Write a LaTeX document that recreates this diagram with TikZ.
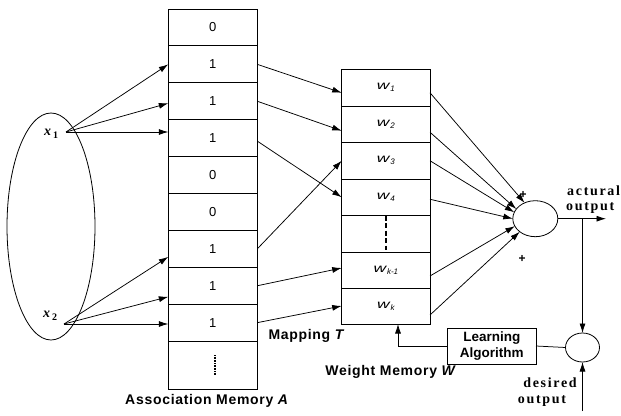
\documentclass[tikz,border=0pt]{standalone}
\usepackage{fontspec}
\usepackage{graphicx}
\setmainfont{Liberation Sans}
\newfontfamily\tmsS[LetterSpace=12]{Liberation Serif}
\newfontfamily\tmsX{Liberation Serif}
\newfontfamily\lsS[LetterSpace=5]{Liberation Sans}
\usetikzlibrary{shapes.geometric,arrows.meta,calc}
\newcommand{\wlab}[1]{\scalebox{1.45}[1]{\textit{w}}\raisebox{-0.3ex}{\fontsize{8}{9}\selectfont\itshape #1}}
\newcommand{\xlab}[1]{{\fontsize{14}{16}\selectfont\tmsX\bfseries\itshape x}\hspace{2pt}\raisebox{-0.5ex}{\fontsize{10}{11}\selectfont\tmsX\bfseries #1}}
\begin{document}
\begin{tikzpicture}[x=1pt,y=-1pt,
  box/.style={draw,line width=0.9pt,inner sep=0pt,outer sep=0pt},
  acell/.style={box,minimum width=89pt,minimum height=36.9pt,font=\fontsize{13}{14}\selectfont},
  wcell/.style={box,minimum width=88.3pt,minimum height=36.5pt,font=\fontsize{12}{14}\selectfont},
  arr/.style={line width=0.75pt,-{Latex[length=9.5pt,width=6pt]}},
  ln/.style={line width=0.75pt},
  oval/.style={ellipse,draw,line width=0.8pt,inner sep=0pt,outer sep=0pt},
  caption/.style={font=\fontsize{14}{16}\selectfont\lsS\bfseries},
  serl/.style={font=\fontsize{14}{16}\selectfont\tmsS\bfseries},
  plus/.style={font=\fontsize{12}{12}\selectfont\bfseries,inner sep=0pt}]
\useasboundingbox (0,0) rectangle (621,415);
% input space
\node[oval,minimum width=88pt,minimum height=227pt] (ell) at (51,226.5) {};
\node[inner sep=0pt] (x1) at (51,134) {\xlab{1}};
\node[inner sep=0pt] (x2) at (50,316) {\xlab{2}};
\coordinate (x1s) at (66,132);
\coordinate (x2s) at (64,324);
% association memory
\foreach \v [count=\i] in {0,1,1,1,0,0,1,1,1}
  \node[acell] (a\i) at (212.8,{9+36.9*(\i-0.5)}) {\v};
\node[acell,minimum height=47.9pt] (a10) at (212.8,365.05) {};
\draw[line width=2.2pt,dash pattern=on 1pt off 0.6pt] ($(a10.center)+(2,-10)$) -- ($(a10.center)+(2,10)$);
\node[caption] (alab) at (207,401) {Association Memory \textit{A}};
% weight memory
\node[wcell] (w1) at (385.85,87.75) {\wlab{1}};
\node[wcell] (w2) at (385.85,124.25) {\wlab{2}};
\node[wcell] (w3) at (385.85,160.75) {\wlab{3}};
\node[wcell] (w4) at (385.85,197.25) {\wlab{4}};
\node[wcell] (w5) at (385.85,233.75) {};
\node[wcell,minimum height=36pt] (w6) at (385.85,270) {\wlab{k-1}};
\node[wcell,minimum height=36pt] (w7) at (385.85,306) {\wlab{k}};
\draw[line width=2pt,dash pattern=on 5pt off 2.5pt] (w5.north) -- ($(w5.south)+(0,-2)$);
\node[caption] (wlabel) at (391,372) {Weight Memory \textit{W}};
\node[caption,anchor=west] (map) at (265,336) {Mapping \textit{T}};
% input arrows
\draw[arr] (x1s) -- (a2.west);
\draw[arr] (x1s) -- ($(a3.west)+(0,2)$);
\draw[arr] (x1s) -- (x1s -| a4.west);
\draw[arr] (x2s) -- ($(a7.west)+(0,8)$);
\draw[arr] (x2s) -- ($(a8.west)+(0,11)$);
\draw[arr] (x2s) -- (x2s -| a9.west);
% mapping arrows
\draw[arr] (a2.east) -- ($(w1.west)+(0,5)$);
\draw[arr] (a3.east) -- ($(w2.west)+(0,6.5)$);
\draw[arr] ($(a4.east)+(0,3)$) -- (w4.west);
\draw[arr] (a7.east) -- (w3.west);
\draw[arr] (a8.east) -- ($(w6.west)+(0,-2)$);
\draw[arr] (a9.east) -- (w7.west);
% summation
\node[oval,minimum width=45pt,minimum height=36pt] (sum) at (535.3,218.7) {};
\draw[arr] ($(w1.east)+(0,5)$) -- (sum.124);
\draw[arr] ($(w2.east)+(0,8)$) -- (sum.153);
\draw[arr] (w3.east) -- (sum.163);
\draw[arr] ($(w4.east)+(0,2)$) -- (sum.180);
\draw[arr] ($(w6.east)+(0,6)$) -- (sum.200);
\draw[arr] ($(w7.east)+(0,9)$) -- (sum.220);
\node[plus] (p1) at (523,195) {+};
\node[plus] (p2) at (522,259) {+};
% outputs
\coordinate (outtip) at (606,218.7);
\draw[arr] (sum.east) -- (outtip);
\node[serl,anchor=west,inner sep=0pt] (act1) at (567,191) {actural};
\node[serl,anchor=west,inner sep=0pt] (act2) at (566,208) {output};
\node[oval,minimum width=34pt,minimum height=29pt] (err) at (582.5,347.5) {};
\draw[arr] (err.north |- sum.east) -- (err.north);
\coordinate (dstart) at (582.5,411);
\draw[arr] (dstart) -- (err.south);
\node[serl,inner sep=0pt] (des1) at (550,383) {desired};
\node[serl,inner sep=0pt] (des2) at (542,401) {output};
% learning
\node[box,minimum width=88.3pt,minimum height=36pt,align=center,font=\fontsize{13.5}{16}\selectfont\bfseries] (learn) at (491.85,346) {Learning\\Algorithm};
\draw[ln] (learn.east) -- (err.west);
\draw[arr] (learn.west) -| ([xshift=12.15pt]w7.south);
\end{tikzpicture}
\end{document}
